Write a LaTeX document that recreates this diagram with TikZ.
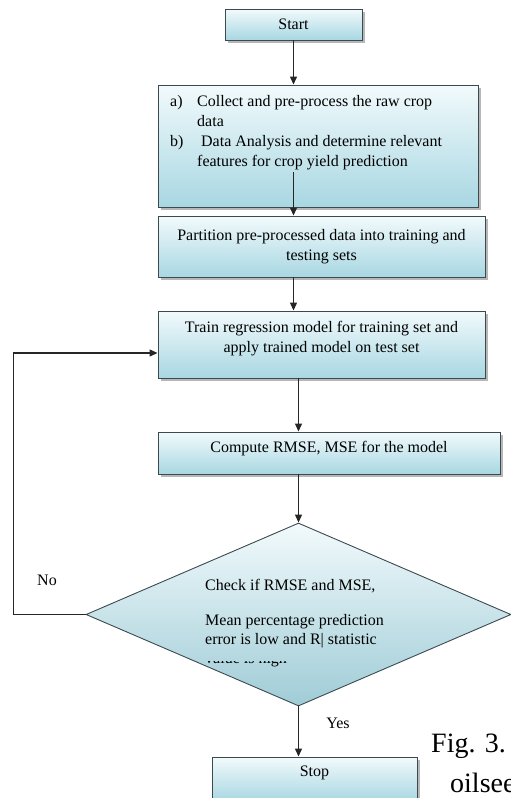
\documentclass[tikz,border=0pt]{standalone}
\usepackage{fontspec}
\setmainfont{Liberation Serif}
\usetikzlibrary{arrows.meta,shapes.geometric,shadows}
\definecolor{boxtop}{HTML}{F2FAFC}
\definecolor{boxbot}{HTML}{A8D7E2}
\definecolor{edge}{HTML}{3C4A50}
\begin{document}
\begin{tikzpicture}[x=1pt,y=-1pt,
  font=\fontsize{16}{20}\selectfont,
  flowbox/.style={rectangle,draw=edge,line width=0.9pt,top color=boxtop,bottom color=boxbot,
    inner sep=0pt,drop shadow={shadow xshift=2.5pt,shadow yshift=-2.5pt,fill=black!40,opacity=0.7}},
  decide/.style={diamond,draw=edge,line width=0.9pt,top color=boxtop,bottom color=boxbot!95!black,
    inner sep=0pt,shape aspect=2.3,minimum width=425pt,minimum height=183pt},
  arr/.style={line width=1.2pt,draw=black!85,-{Triangle[length=8pt,width=7pt]}},
  txt/.style={inner sep=0pt,anchor=base west}]
  \useasboundingbox (0,0) rectangle (511,798);
  % boxes
  \node[flowbox,minimum width=137pt,minimum height=31pt] (start) at (293.5,24.5) {Start};
  \node[flowbox,minimum width=320pt,minimum height=122pt] (collect) at (318,146) {};
  \node[inner sep=0pt,anchor=north west] (collecttxt) at (170,92) {%
    \begin{tabular}{@{}p{27pt}@{}l@{}}
      a) & Collect and pre-process the raw crop\\
         & data\\
      b) & \ Data Analysis and determine relevant\\
         & features for crop yield prediction
    \end{tabular}};
  \node[flowbox,minimum width=327pt,minimum height=61pt,align=center] (partition) at (321.5,246.5)
    {Partition pre-processed data into training and\\ testing sets};
  \node[flowbox,minimum width=327pt,minimum height=67pt,align=center,text depth=16pt] (train) at (321.5,344.5)
    {Train regression model for training set and\\ apply trained model on test set};
  \node[flowbox,minimum width=342pt,minimum height=42pt,text depth=13pt] (compute) at (329,453)
    {Compute RMSE, MSE for the model};
  \node[decide] (check) at (298.5,614.5) {};
  \node[txt] (chka) at (205,590) {Check if RMSE and MSE,};
  \node[txt] (chkb) at (205,625) {Mean percentage prediction};
  \node[txt] (chkc) at (205,644) {error is low and R| statistic};
  \begin{scope}
    \clip (200,661.5) rectangle (400,666);
    \node[txt] (chkd) at (205,663) {value is high};
  \end{scope}
  \node[flowbox,minimum width=205pt,minimum height=44pt,text depth=16pt] (stop) at (314.5,779) {Stop};
  % labels
  \node (no) at (47,580) {No};
  \node (yes) at (338,723) {Yes};
  \node[txt,font=\fontsize{28}{30}\selectfont] (fig) at (431,752) {Fig. 3.};
  \node[txt,font=\fontsize{28}{30}\selectfont] (oil) at (450,792) {oilseed};
  % connectors
  \draw[arr] (start.south) -- (start |- collect.north);
  \draw[arr] (start |- collecttxt.south) -- (start |- partition.north);
  \draw[arr] (start |- partition.south) -- (start |- train.north);
  \draw[arr] (check |- train.south) -- (check |- compute.north);
  \draw[arr] (check |- compute.south) -- (check.north);
  \draw[arr] (check.south) -- (check.south |- stop.north);
  \draw[arr] (check.west) -- ++(-72,0) |- ([yshift=-8.5pt]train.west);
\end{tikzpicture}
\end{document}
